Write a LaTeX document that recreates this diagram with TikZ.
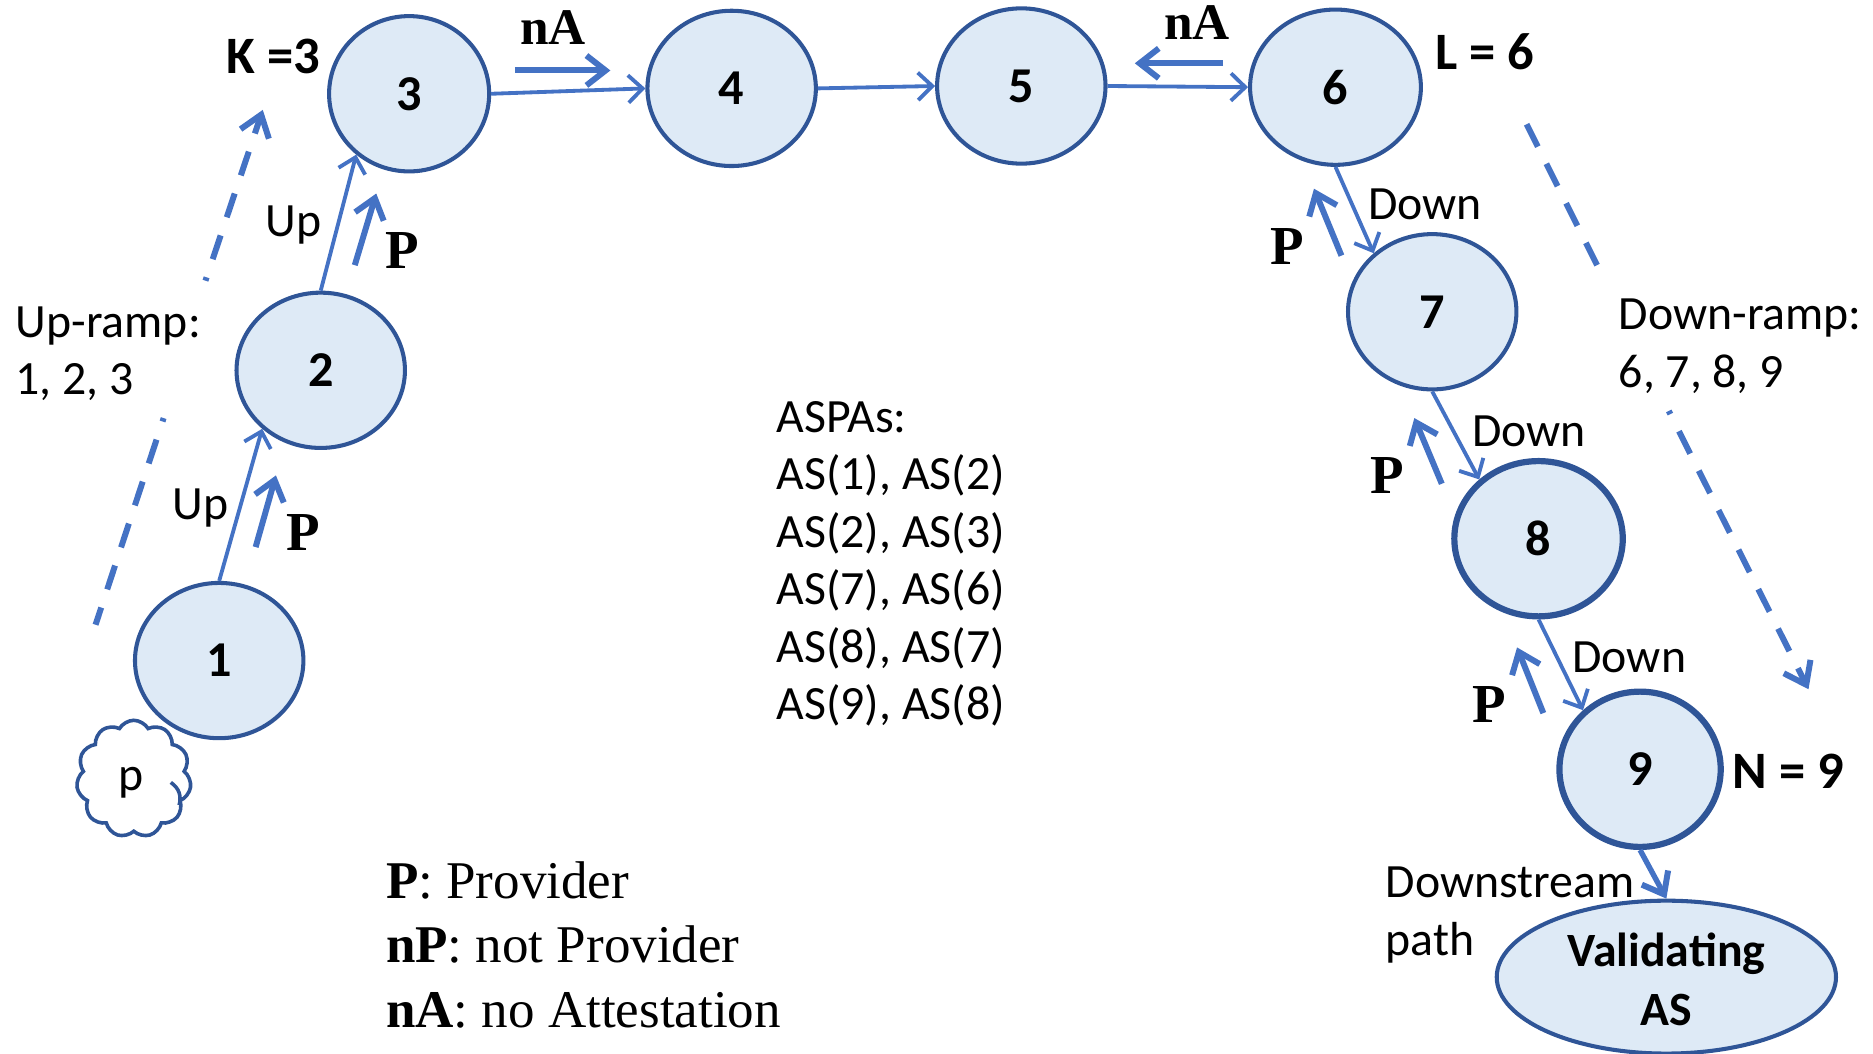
\documentclass[tikz,border=0pt]{standalone}
\usepackage{fontspec}
\setmainfont{Carlito}
\newfontfamily\serifx{Liberation Serif}
\usetikzlibrary{arrows.meta,shapes.geometric,shapes.symbols}
\definecolor{nodefill}{HTML}{DEEAF6}
\definecolor{nodeline}{HTML}{2F5597}
\definecolor{arrowblue}{HTML}{4472C4}
\tikzset{
  x=1pt,y=-1pt,
  asnode/.style={ellipse,draw=nodeline,fill=nodefill,line width=3.4pt,inner sep=0pt,
     font=\fontsize{42}{48}\selectfont\bfseries,align=center},
  asthick/.style={asnode,line width=5.2pt},
  link/.style={draw=arrowblue,line width=3.2pt,-{Straight Barb[length=12pt,width=23pt,line width=3.2pt]}},
  fatlink/.style={draw=arrowblue,line width=5pt,-{Straight Barb[length=16pt,width=25pt,line width=5pt]}},
  ramp/.style={draw=arrowblue,line width=5pt,dash pattern=on 21pt off 16pt,dash phase=18pt},
  ramphead/.style={ramp,-{Straight Barb[length=17pt,width=25pt,line width=5pt]}},
  lab/.style={font=\fontsize{40}{48.2}\selectfont,inner sep=0pt,align=left},
  blab/.style={font=\fontsize{44}{48}\selectfont\bfseries,inner sep=0pt},
  sym/.style={font=\fontsize{46}{54}\selectfont\serifx\bfseries,inner sep=0pt},
  legend/.style={font=\fontsize{44.4}{54}\selectfont\serifx,inner sep=0pt,align=left},
}
\begin{document}
\begin{tikzpicture}
\useasboundingbox (0,0) rectangle (1568,882);
% cloud
\node[cloud,cloud puffs=11,cloud puff arc=120,aspect=1,draw=nodeline,fill=white,line width=3pt,
  minimum width=96pt,minimum height=98pt,inner sep=0pt] (cl) at (112,652) {};
\draw[draw=nodeline,line width=3pt] (143,655) .. controls (150,660) and (152,666) .. (150,674);
\node[lab] (pt) at (110,655) {p};
% AS nodes
\node[asnode,minimum width=141pt,minimum height=130pt] (n1) at (183.5,553) {1};
\node[asnode,minimum width=141pt,minimum height=130pt] (n2) at (268.5,310) {2};
\node[asnode,minimum width=134pt,minimum height=130pt] (n3) at (342.5,78.5) {3};
\node[asnode,minimum width=141pt,minimum height=130pt] (n4) at (612.5,74) {4};
\node[asnode,minimum width=141pt,minimum height=130pt] (n5) at (855,72) {5};
\node[asnode,minimum width=143pt,minimum height=130pt] (n6) at (1118,73) {6};
\node[asnode,minimum width=141pt,minimum height=130pt] (n7) at (1199,261) {7};
\node[asthick,minimum width=141pt,minimum height=130pt] (n8) at (1288,451) {8};
\node[asthick,minimum width=135pt,minimum height=130pt] (n9) at (1373,644) {9};
\node[asnode,minimum width=284pt,minimum height=128pt,font=\fontsize{40}{49}\selectfont\bfseries] (va) at (1395,818) {\rule{0pt}{32pt}Validating\\AS};
% links
\draw[link] (n1.north) -- (n2.-135);
\draw[link] (n2.north) -- (n3.-131);
\draw[link] (n3.east) -- (n4.west);
\draw[link] (n4.east) -- (n5.west);
\draw[link] (n5.east) -- (n6.west);
\draw[link] (n6.south) -- (n7.135);
\draw[link] (n7.south) -- (n8.135);
\draw[link] (n8.south) -- (n9.134);
\draw[fatlink,line width=4.5pt] (n9.south) -- (va.north);
% free arrows
\coordinate (pa1) at (214,458); \coordinate (pb1) at (231,398);
\coordinate (pa2) at (297,222); \coordinate (pb2) at (315,162);
\coordinate (pa3) at (431,59);  \coordinate (pb3) at (511,59);
\coordinate (pa4) at (1024,53); \coordinate (pb4) at (950,53);
\coordinate (pa5) at (1123,214); \coordinate (pb5) at (1100,158);
\coordinate (pa6) at (1207,405); \coordinate (pb6) at (1184,350);
\coordinate (pa7) at (1292,597); \coordinate (pb7) at (1270,542);
\foreach \i in {1,...,7} {\draw[fatlink] (pa\i) -- (pb\i);}
% ramps
\coordinate (ua) at (80,523); \coordinate (ub) at (137,350);
\coordinate (uc) at (172,235); \coordinate (ud) at (220,92);
\coordinate (da) at (1278,104); \coordinate (db) at (1337,222);
\coordinate (dc) at (1397,344); \coordinate (dd) at (1514,577);
\draw[ramp] (ub) -- (ua);
\draw[ramphead] (uc) -- (ud);
\draw[ramp,dash phase=0pt] (da) -- (db);
\draw[ramphead] (dc) -- (dd);
% labels
\node[blab] (k) at (229,47) {K =3};
\node[blab] (l) at (1243,43) {L = 6};
\node[blab] (nn) at (1497,646) {N = 9};
\node[lab] (u1) at (246,188) {Up};
\node[lab] (u2) at (168,425) {Up};
\node[lab] (d1) at (1193,171) {Down};
\node[lab] (d2) at (1280,361) {Down};
\node[lab] (d3) at (1364,550) {Down};
\node[sym] (s1) at (254,446) {P};
\node[sym] (s2) at (337,210) {P};
\node[sym] (s3) at (1078,206) {P};
\node[sym] (s4) at (1161,398) {P};
\node[sym] (s5) at (1247,590) {P};
\node[sym,font=\fontsize{43}{50}\selectfont\serifx\bfseries] (s6) at (463,23) {nA};
\node[sym,font=\fontsize{43}{50}\selectfont\serifx\bfseries] (s7) at (1002,19) {nA};
\node[lab,anchor=west] (ur) at (13,296) {Up-ramp:\\1, 2, 3};
\node[lab,anchor=west] (dr) at (1355,290) {Down-ramp:\\6, 7, 8, 9};
\node[lab,anchor=west] (as) at (650,472) {ASPAs:\\AS(1), AS(2)\\AS(2), AS(3)\\AS(7), AS(6)\\AS(8), AS(7)\\AS(9), AS(8)};
\node[lab,anchor=west] (ds) at (1160,766) {Downstream\\path};
\node[legend,anchor=west] (lg) at (323,791) {\textbf{P}: Provider\\\textbf{nP}: not Provider\\\textbf{nA}: no Attestation};
\end{tikzpicture}
\end{document}
